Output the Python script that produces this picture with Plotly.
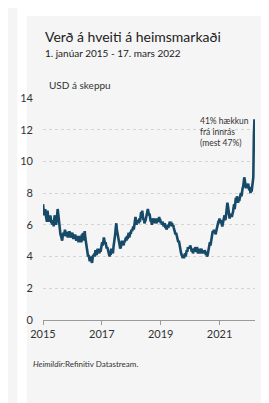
import pandas as pd
import plotly.graph_objects as go

# ---- data (weekly values) ----
dates = list(pd.date_range("2015-01-01", "2022-03-17", freq="7D").strftime("%Y-%m-%d"))

price_y1 = [7.3, 6.9, 6.6, 6.8, 7.0, 6.6, 6.4, 6.2, 6.9, 6.5, 6.2, 6.4, 6.3,
            6.6, 6.3, 6.1, 6.3, 6.0, 6.2, 5.9, 6.4, 6.6, 6.3, 6.0, 6.2, 6.6,
            7.0, 6.7, 6.3, 6.0, 5.7, 5.4, 5.3, 5.2, 5.0, 5.3, 5.5, 5.3, 5.6,
            5.7, 5.4, 5.3, 5.5, 5.5, 5.2, 5.4, 5.3, 5.6, 5.4, 5.2, 5.3, 5.4]
price_y2 = [5.5, 5.3, 5.1, 5.3, 5.2, 5.4, 5.1, 5.0, 5.2, 5.0, 5.3, 4.9, 5.1,
            5.3, 5.0, 5.2, 4.9, 5.4, 5.2, 5.5, 5.0, 5.3, 5.6, 5.2, 4.9, 4.7,
            4.4, 4.2, 4.0, 4.1, 3.9, 3.7, 4.0, 3.9, 3.8, 3.6, 3.9, 4.1, 4.0,
            4.2, 4.0, 4.4, 4.2, 4.1, 4.3, 4.5, 4.3, 4.4, 4.2, 4.5, 4.3, 4.6]
price_y3 = [4.6, 4.9, 4.7, 4.9, 5.2, 5.0, 4.8, 4.9, 4.7, 4.5, 4.6, 4.4, 4.3,
            4.2, 4.0, 4.2, 4.1, 4.5, 4.3, 4.4, 4.2, 4.6, 4.8, 5.1, 5.4, 5.8,
            6.1, 5.7, 5.5, 5.2, 5.0, 4.8, 4.6, 4.5, 4.6, 4.8, 5.0, 4.7, 4.9,
            4.7, 5.0, 4.9, 5.1, 5.2, 5.0, 5.3, 5.1, 5.3, 5.5, 5.2, 5.4, 5.5]
price_y4 = [5.5, 5.7, 5.6, 5.8, 5.9, 5.7, 6.0, 6.2, 6.5, 6.3, 6.0, 6.2, 6.1,
            6.3, 6.1, 6.4, 6.2, 6.5, 6.8, 6.6, 6.9, 6.6, 6.3, 6.4, 6.1, 6.2,
            6.3, 6.5, 6.6, 6.8, 7.0, 6.8, 6.6, 6.7, 6.4, 6.2, 6.3, 6.0, 6.2,
            6.4, 6.3, 6.1, 6.3, 6.2, 6.4, 6.1, 6.2, 6.4, 6.2, 6.3, 6.5, 6.3]
price_y5 = [6.3, 6.1, 6.2, 6.0, 6.2, 6.1, 5.9, 6.0, 6.1, 5.8, 5.9, 5.7, 5.9,
            6.0, 5.8, 5.9, 6.1, 6.2, 6.0, 6.2, 5.9, 6.1, 5.9, 6.0, 5.8, 5.7,
            5.6, 5.4, 5.5, 5.3, 5.3, 5.1, 4.9, 5.0, 4.7, 4.5, 4.3, 4.2, 4.1,
            4.0, 3.9, 4.1, 3.9, 4.1, 4.2, 4.0, 4.3, 4.4, 4.3, 4.6, 4.5, 4.6]
price_y6 = [4.5, 4.7, 4.6, 4.4, 4.3, 4.5, 4.2, 4.4, 4.5, 4.3, 4.6, 4.4, 4.3,
            4.6, 4.4, 4.2, 4.4, 4.3, 4.5, 4.2, 4.4, 4.5, 4.3, 4.4, 4.2, 4.3,
            4.2, 4.4, 4.3, 4.1, 4.2, 4.0, 4.1, 4.3, 4.4, 4.6, 4.9, 4.7, 4.9,
            5.2, 5.4, 5.6, 5.5, 5.7, 5.5, 5.6, 5.4, 5.6, 5.8, 5.9, 6.0, 6.2]
price_y7 = [6.2, 6.4, 6.1, 6.3, 6.2, 6.0, 5.9, 6.1, 6.3, 6.5, 6.6, 6.3, 6.4,
            6.7, 7.0, 7.4, 7.2, 7.0, 6.6, 6.4, 6.6, 6.5, 6.7, 6.5, 6.7, 6.8,
            7.1, 7.3, 7.0, 7.4, 7.7, 7.5, 7.8, 7.6, 7.4, 7.6, 7.5, 7.7, 7.9,
            8.0, 7.8, 8.2, 8.3, 8.4, 8.7, 9.0, 8.8, 8.5, 8.3, 8.6, 8.4, 8.5]
price_y8 = [8.6, 8.3, 8.2, 8.4, 8.0, 8.2, 8.1, 8.4, 8.8, 9.0, 11.6, 12.65, 12.13]
prices = price_y1 + price_y2 + price_y3 + price_y4 + price_y5 + price_y6 + price_y7 + price_y8

x_tick_vals = ["2015-01-01", "2017-01-01", "2019-01-01", "2021-01-01"]
x_tick_text = ["2015", "2017", "2019", "2021"]

title_text = "Verð á hveiti á heimsmarkaði"
subtitle_text = "1. janúar 2015 - 17. mars 2022"
unit_text = "USD á skeppu"
note_text = "41% hækkun<br>frá innrás<br>(mest 47%)"
source_text = "<i>Heimildir:</i>Refinitiv Datastream."

# ---- layout geometry ----
W, H = 269, 403
L, R, T, B = 25, 22, 90, 91
PW, PH = W - L - R, H - T - B

def px(xpix):
    return (xpix - L) / PW

def py(ypix):
    return (H - B - ypix) / PH

FONT = "Lato"
LINE = "#174a68"

fig = go.Figure()
fig.add_trace(go.Scatter(x=dates, y=prices, mode="lines",
                         line=dict(color=LINE, width=2.6), hoverinfo="skip"))

fig.update_layout(
    width=W, height=H,
    margin=dict(l=L, r=R, t=T, b=B),
    paper_bgcolor="#f5f5f5", plot_bgcolor="#f5f5f5",
    showlegend=False,
    font=dict(family=FONT, color="#333333", size=11),
    xaxis=dict(type="date", range=["2015-01-01", "2022-03-17"],
               tickvals=x_tick_vals, ticktext=x_tick_text,
               showgrid=False, zeroline=False,
               showline=True, linecolor="#9a9a9a", linewidth=1,
               ticks="outside", ticklen=4, tickcolor="#9a9a9a",
               tickfont=dict(size=11, color="#333333")),
    yaxis=dict(range=[0, 14], dtick=2, showgrid=True,
               gridcolor="#d4d4d4", griddash="dot", gridwidth=1,
               zeroline=False, showline=False, ticks="",
               ticklabelstandoff=9,
               tickfont=dict(size=11, color="#333333")),
    shapes=[
        dict(type="rect", xref="paper", yref="paper", x0=px(0), x1=px(W), y0=py(8), y1=py(-2),
             fillcolor="white", line=dict(width=0), layer="below"),
        dict(type="rect", xref="paper", yref="paper", x0=px(-2), x1=px(8), y0=py(H + 2), y1=py(-2),
             fillcolor="white", line=dict(width=0), layer="below"),
    ],
)

anns = [
    dict(text=title_text, x=px(25), y=py(29), size=14, color="#222222"),
    dict(text=subtitle_text, x=px(25), y=py(45), size=10, color="#222222"),
    dict(text=unit_text, x=px(29), y=py(77), size=10, color="#333333"),
    dict(text=source_text, x=px(12), y=py(356), size=8, color="#333333"),
]
for a in anns:
    fig.add_annotation(text=a["text"], x=a["x"], y=a["y"], xref="paper", yref="paper",
                       xanchor="left", yanchor="middle", showarrow=False,
                       font=dict(family=FONT, size=a["size"], color=a["color"]))

fig.add_annotation(text=note_text, x=px(187), y=py(124), xref="paper", yref="paper",
                   xanchor="left", yanchor="middle", align="left", showarrow=False,
                   font=dict(family=FONT, size=8.5, color="#333333"))

fig.write_html("out.html")
